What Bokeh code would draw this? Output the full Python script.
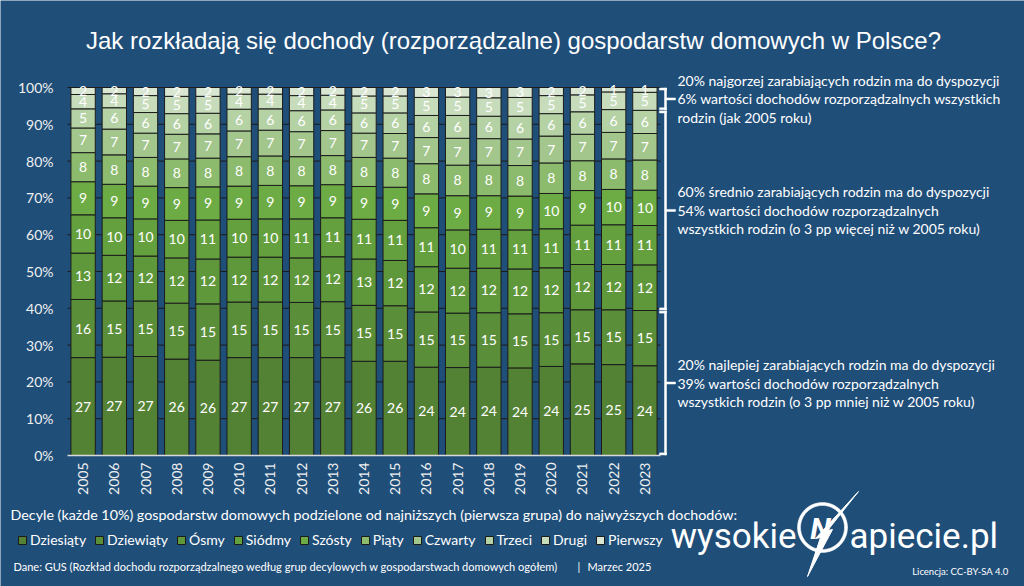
import math
from bokeh.plotting import figure
from bokeh.models import (ColumnDataSource, Range1d, Label, LabelSet, Legend, LegendItem)
from bokeh.core.properties import value
from bokeh.embed import file_html
from bokeh.resources import INLINE

# ---------------------------------------------------------------- data
years = [str(y) for y in range(2005, 2024)]

# Udział decyli w dochodzie rozporządzalnym ogółem, %
dziesiaty = [26.6, 26.7, 26.9, 26.2, 25.9, 26.6, 26.6, 26.6, 26.6, 25.6, 25.6, 24.0, 23.9, 24.0, 23.8, 24.2, 24.9, 24.7, 24.4]
dziewiaty = [15.8, 15.3, 15.1, 15.2, 15.3, 15.1, 15.1, 15.0, 15.2, 15.2, 15.1, 15.0, 14.8, 14.8, 14.7, 14.6, 14.7, 14.9, 15.0]
osmy      = [12.6, 12.4, 12.2, 12.3, 12.2, 12.2, 12.2, 12.1, 12.2, 12.6, 12.3, 12.3, 12.2, 12.1, 12.2, 12.2, 12.3, 12.3, 12.4]
siodmy    = [10.4, 10.2, 10.1, 10.2, 10.6, 10.3, 10.4, 10.6, 10.6, 10.8, 10.9, 10.6, 10.4, 10.6, 10.6, 10.6, 10.7, 10.8, 10.7]
szosty    = [9.0, 9.1, 8.9, 8.9, 9.0, 9.0, 9.1, 9.0, 9.0, 8.9, 9.0, 9.2, 9.3, 9.1, 9.2, 9.6, 9.4, 9.6, 9.6]
piaty     = [7.9, 8.0, 7.8, 7.8, 7.8, 8.0, 8.0, 7.9, 7.9, 7.9, 7.9, 8.2, 8.3, 8.3, 8.3, 8.3, 8.1, 8.3, 8.2]
czwarty   = [6.7, 7.0, 6.6, 6.7, 6.6, 7.0, 7.0, 6.8, 6.8, 6.6, 6.7, 7.1, 7.3, 7.2, 7.2, 7.3, 7.2, 7.2, 7.2]
trzeci    = [5.2, 5.8, 5.6, 5.6, 5.6, 5.9, 5.8, 5.7, 5.6, 5.5, 5.6, 6.0, 6.2, 6.1, 6.2, 6.1, 6.1, 6.2, 6.3]
drugi     = [3.9, 3.8, 4.6, 4.7, 4.6, 4.1, 4.0, 4.1, 4.0, 4.6, 4.6, 4.9, 5.0, 5.0, 5.1, 4.9, 4.6, 4.8, 4.9]
pierwszy  = [1.9, 1.7, 2.2, 2.4, 2.4, 1.8, 1.8, 2.2, 2.1, 2.3, 2.3, 2.7, 2.6, 2.8, 2.7, 2.2, 2.0, 1.2, 1.3]

decile_names = ["Dziesiąty", "Dziewiąty", "Ósmy", "Siódmy", "Szósty",
                "Piąty", "Czwarty", "Trzeci", "Drugi", "Pierwszy"]
decile_values = [dziesiaty, dziewiaty, osmy, siodmy, szosty,
                 piaty, czwarty, trzeci, drugi, pierwszy]
decile_colors = ["#548235", "#5a8e38", "#5f973b", "#65a03e", "#6dac44",
                 "#8cbb6d", "#a2c68c", "#b5d2a5", "#c6dcbb", "#d8e6d2"]

y_ticks = list(range(0, 101, 10))
y_tick_labels = [f"{t}%" for t in y_ticks]

# ---------------------------------------------------------------- layout constants
W, H = 1024, 586
PX_L, PX_R, PY_T, PY_B = 67, 660, 87, 455   # plot area on the canvas
BG = "#1F4E79"
BODY = "Lato"
TXT = "#ffffff"
TICK = "#f0f0f0"

n = len(years)
xs_per_px = n / (PX_R - PX_L)
ys_per_px = 100 / (PY_B - PY_T)
X0 = -0.5 - PX_L * xs_per_px
Y0 = -(H - PY_B) * ys_per_px

def sy(cy):
    # screen y (measured up from the bottom edge) for a canvas row
    return H - cy

def dx(cx):
    # x data coordinate of a canvas column
    return X0 + cx * xs_per_px

def dy(cy):
    # y data coordinate of a canvas row
    return Y0 + (H - cy) * ys_per_px

# ---------------------------------------------------------------- figure
p = figure(width=W, height=H,
           x_range=Range1d(X0, X0 + W * xs_per_px),
           y_range=Range1d(Y0, Y0 + H * ys_per_px),
           x_axis_location=None, y_axis_location=None,
           output_backend="svg", toolbar_location=None, tools="",
           min_border=0)
p.background_fill_color = BG
p.border_fill_color = BG
p.outline_line_color = None
p.grid.visible = False

idx = list(range(n))

# horizontal grid lines across the plot area
grid_y = [t for t in y_ticks if t > 0]
p.segment(x0=[-0.5] * len(grid_y), x1=[n - 0.5] * len(grid_y), y0=grid_y, y1=grid_y,
          line_color="#1b1b1b", line_width=1)

keys = [f"d{i}" for i in range(len(decile_names))]
src = ColumnDataSource(dict(x=idx, **{k: v for k, v in zip(keys, decile_values)}))
bars = p.vbar_stack(keys, x="x", width=0.78, source=src,
                    fill_color=decile_colors, line_color="#1b1b1b", line_width=1)

# base line of the value axis
p.segment(x0=[-0.5], x1=[n - 0.5], y0=[0], y1=[0], line_color="#d9d9d9", line_width=1.5)

# ---------------------------------------------------------------- group brackets for the last year
top20 = dziesiaty[-1] + dziewiaty[-1]
low20 = pierwszy[-1] + drugi[-1]
mid60 = 100 - top20 - low20
top20_0 = dziesiaty[0] + dziewiaty[0]
low20_0 = pierwszy[0] + drugi[0]
mid60_0 = 100 - top20_0 - low20_0
total = sum(v[-1] for v in decile_values)

groups = [(total - low20, total), (top20, total - low20), (0, top20)]
th = 2.0 * ys_per_px            # stroke thickness in value units
ql, qr, qb, qt = [], [], [], []
for y0, y1 in groups:
    ym = (y0 + y1) / 2
    # spine
    ql.append(dx(664)); qr.append(dx(666)); qb.append(y0 + th * 0.3); qt.append(y1 - th * 0.3)
    # end hooks
    ql.append(dx(659)); qr.append(dx(666)); qb.append(y0 + th * 0.3); qt.append(y0 + th * 1.3)
    ql.append(dx(659)); qr.append(dx(666)); qb.append(y1 - th * 1.3); qt.append(y1 - th * 0.3)
    # pointer
    ql.append(dx(665)); qr.append(dx(675)); qb.append(ym - th / 2); qt.append(ym + th / 2)
p.quad(left=ql, right=qr, bottom=qb, top=qt, fill_color="#ffffff",
       line_color="#ffffff", line_width=0.5)

# value labels in the middle of every segment
lx, ly, lt = [], [], []
for j in idx:
    base = 0.0
    for vals in decile_values:
        v = vals[j]
        lx.append(j)
        ly.append(base + v / 2)
        lt.append(f"{v:.0f}")
        base += v
p.text(x="x", y="y", text="t", source=ColumnDataSource(dict(x=lx, y=ly, t=lt)),
       text_align="center", text_baseline="middle", text_color=TXT,
       text_font=value(BODY), text_font_size="14px")

# tick labels
p.add_layout(LabelSet(x=53, y="y", text="t", x_units="screen", y_units="data",
                      source=ColumnDataSource(dict(y=y_ticks, t=y_tick_labels)),
                      text_align="right", text_baseline="middle", text_color=TICK,
                      text_font=value(BODY), text_font_size="14px"))
p.add_layout(LabelSet(x="x", y=0, text="t", x_units="data", y_units="data",
                      source=ColumnDataSource(dict(x=idx, t=years)),
                      angle=math.pi / 2, y_offset=-7,
                      text_align="right", text_baseline="middle", text_color=TICK,
                      text_font=value(BODY), text_font_size="14px"))

# ---------------------------------------------------------------- title
p.add_layout(Label(x=513, y=sy(40), x_units="screen", y_units="screen",
                   text="Jak rozkładają się dochody (rozporządzalne) gospodarstw domowych w Polsce?",
                   text_align="center", text_baseline="middle", text_color=TXT,
                   text_font="Liberation Sans", text_font_size="24px"))

# ---------------------------------------------------------------- notes next to the brackets
def note(ym, lines):
    for k, line in enumerate(lines):
        p.add_layout(Label(x=677, y=ym, x_units="screen", y_units="data",
                           y_offset=18.5 * (1 - k), text=line,
                           text_align="left", text_baseline="middle",
                           text_color=TXT, text_font=BODY, text_font_size="14px"))

ym_low, ym_mid, ym_top = [(a + b) / 2 for a, b in groups]
note(ym_low, ["20% najgorzej zarabiających rodzin ma do dyspozycji",
              f"{low20:.0f}% wartości dochodów rozporządzalnych wszystkich",
              "rodzin (jak 2005 roku)"])
note(ym_mid, ["60% średnio zarabiających rodzin ma do dyspozycji",
              f"{mid60:.0f}% wartości dochodów rozporządzalnych",
              f"wszystkich rodzin (o {mid60 - mid60_0:.0f} pp więcej niż w 2005 roku)"])
note(ym_top, ["20% najlepiej zarabiających rodzin ma do dyspozycji",
              f"{top20:.0f}% wartości dochodów rozporządzalnych",
              f"wszystkich rodzin (o {top20_0 - top20:.0f} pp mniej niż w 2005 roku)"])

# ---------------------------------------------------------------- legend
p.add_layout(Label(x=10, y=sy(514), x_units="screen", y_units="screen",
                   text="Decyle (każde 10%) gospodarstw domowych podzielone od najniższych "
                        "(pierwsza grupa) do najwyższych dochodów:",
                   text_align="left", text_baseline="middle", text_color=TXT,
                   text_font=BODY, text_font_size="14.3px"))

legend = Legend(items=[LegendItem(label=nm, renderers=[r]) for nm, r in zip(decile_names, bars)],
                orientation="horizontal", location=(17, sy(548)),
                glyph_width=10, glyph_height=10, label_standoff=3, spacing=8,
                padding=0, margin=0, label_height=16,
                background_fill_alpha=0, border_line_color=None,
                label_text_font=BODY, label_text_font_size="14px",
                label_text_color=TXT)
p.add_layout(legend)

# ---------------------------------------------------------------- footer
for txt, cx in [("Dane: GUS (Rozkład dochodu rozporządzalnego według grup decylowych "
                 "w gospodarstwach domowych ogółem)", 13),
                ("|", 577), ("Marzec 2025", 587)]:
    p.add_layout(Label(x=cx, y=sy(566), x_units="screen", y_units="screen", text=txt,
                       text_align="left", text_baseline="middle", text_color=TXT,
                       text_font=BODY, text_font_size="11px"))
p.add_layout(Label(x=1008, y=sy(571), x_units="screen", y_units="screen",
                   text="Licencja: CC-BY-SA 4.0", text_align="right", text_baseline="middle",
                   text_color=TXT, text_font=BODY, text_font_size="9.5px"))

# ---------------------------------------------------------------- logo
p.add_layout(Label(x=796, y=sy(536), x_units="screen", y_units="screen", text="wysokie",
                   text_align="right", text_baseline="alphabetic", text_color=TXT,
                   text_font="Roboto", text_font_size="35px"))
p.add_layout(Label(x=849, y=sy(536), x_units="screen", y_units="screen", text="apiecie.pl",
                   text_align="left", text_baseline="alphabetic", text_color=TXT,
                   text_font="Roboto", text_font_size="35px"))
# ring drawn as one filled outline (outer edge, then inner edge backwards)
steps = [2 * math.pi * k / 72 for k in range(73)]
ring_x = [dx(822 + 25 * math.cos(t)) for t in steps] + [dx(822 + 22 * math.cos(t)) for t in reversed(steps)]
ring_y = [dy(527 - 25 * math.sin(t)) for t in steps] + [dy(527 - 22 * math.sin(t)) for t in reversed(steps)]
p.patch(x=ring_x, y=ring_y, fill_color="#ffffff", line_color="#ffffff", line_width=0.5)
p.add_layout(Label(x=820, y=sy(528), x_units="screen", y_units="screen", text="N",
                   text_align="center", text_baseline="middle", text_color=TXT,
                   text_font="Roboto", text_font_style="bold italic", text_font_size="30px"))
bolt = [(858, 491), (827, 530), (832, 529), (807, 576), (820, 537), (815, 538)]
p.patch(x=[dx(a) for a, b in bolt], y=[dy(b) for a, b in bolt],
        fill_color="#ffffff", line_color="#ffffff", line_width=1)

open("out.html", "w").write(file_html(p, INLINE))
